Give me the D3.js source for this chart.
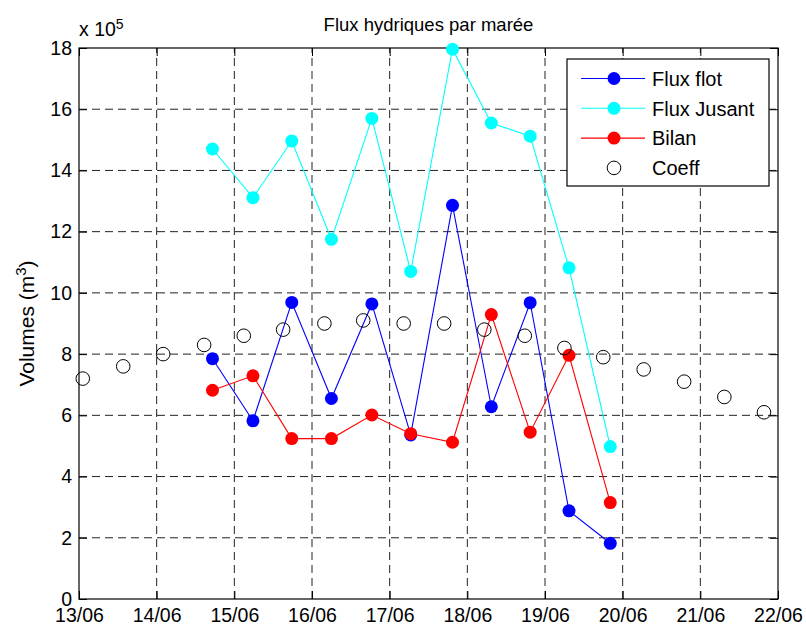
<!DOCTYPE html>
<html>
<head>
<meta charset="utf-8">
<script src="https://cdn.jsdelivr.net/npm/d3@7"></script>
<style>
  body { margin: 0; background: #fff; }
  text { font-family: Arial, "Liberation Sans", sans-serif; fill: #000; }
</style>
</head>
<body>
<svg id="chart" width="806" height="626"></svg>
<script>
// measurement times (one per tide) and volumes in units of 10^5 m3
var fluxTimes = ["14/06 17:15", "15/06 05:45", "15/06 17:45", "16/06 06:00", "16/06 18:30",
                 "17/06 06:30", "17/06 19:25", "18/06 07:25", "18/06 19:25", "19/06 07:25", "19/06 20:10"];
var fluxFlot   = [7.85, 5.82, 9.69, 6.55, 9.64, 5.36, 12.86, 6.28, 9.68, 2.88, 1.82];
var fluxJusant = [14.70, 13.11, 14.96, 11.75, 15.70, 10.70, 17.96, 15.55, 15.12, 10.82, 4.98];
var bilan      = [6.82, 7.29, 5.24, 5.24, 6.01, 5.40, 5.12, 9.29, 5.45, 7.96, 3.15];

// tide coefficients (divided by 10, same axis)
var coeffTimes = ["13/06 01:10", "13/06 13:40", "14/06 02:00", "14/06 14:40", "15/06 02:55", "15/06 15:05",
                  "16/06 03:50", "16/06 15:50", "17/06 04:20", "17/06 16:50", "18/06 05:15", "18/06 17:45",
                  "19/06 06:00", "19/06 18:00", "20/06 06:30", "20/06 19:00", "21/06 07:25", "21/06 19:40"];
var coeff = [7.2, 7.6, 8.0, 8.3, 8.6, 8.8, 9.0, 9.1, 9.0, 9.0, 8.8, 8.6, 8.2, 7.9, 7.5, 7.1, 6.6, 6.1];

// axis ticks
var dayTicks = ["13/06", "14/06", "15/06", "16/06", "17/06", "18/06", "19/06", "20/06", "21/06", "22/06"];
var volumeTicks = [0, 2, 4, 6, 8, 10, 12, 14, 16, 18];

var legendLabels = ["Flux flot", "Flux Jusant", "Bilan", "Coeff"];

// plot area (note: "top" is reserved by window, so prefix everything)
var plotLeft = 79, plotRight = 778, plotTop = 48, plotBottom = 599;
var tickLen = 8;

var parseTime = d3.timeParse("%d/%m %H:%M");
var parseDay = d3.timeParse("%d/%m");
var days = dayTicks.map(parseDay);

var x = d3.scaleTime().domain([days[0], days[days.length - 1]]).range([plotLeft, plotRight]);
var y = d3.scaleLinear().domain([0, 18]).range([plotBottom, plotTop]);

var svg = d3.select("#chart");

// dashed grid
var grid = svg.append("g").attr("class", "grid")
    .attr("stroke", "#222").attr("stroke-width", 1).attr("stroke-dasharray", "8,5");
grid.selectAll("line.v").data(days.slice(1, -1)).enter().append("line")
    .attr("class", "v")
    .attr("x1", function(d){ return x(d); }).attr("x2", function(d){ return x(d); })
    .attr("y1", plotBottom).attr("y2", plotTop);
grid.selectAll("line.h").data(volumeTicks.slice(1, -1)).enter().append("line")
    .attr("class", "h")
    .attr("x1", plotLeft).attr("x2", plotRight)
    .attr("y1", function(d){ return y(d); }).attr("y2", function(d){ return y(d); });

// axes with inward ticks on the four sides
var xAxis = d3.axisBottom(x).tickValues(days).tickFormat(d3.timeFormat("%d/%m"))
    .tickSizeInner(-tickLen).tickSizeOuter(0).tickPadding(9);
var yAxis = d3.axisLeft(y).tickValues(volumeTicks).tickFormat(d3.format("d"))
    .tickSizeInner(-tickLen).tickSizeOuter(0).tickPadding(7);

svg.append("g").attr("transform", "translate(0," + plotBottom + ")").call(xAxis)
    .call(function(g){ g.select(".domain").remove(); })
    .selectAll("text").style("font-size", "19.5px");
svg.append("g").attr("transform", "translate(" + plotLeft + ",0)").call(yAxis)
    .call(function(g){ g.select(".domain").remove(); })
    .selectAll("text").style("font-size", "19.5px");
svg.append("g").attr("transform", "translate(0," + plotTop + ")")
    .call(d3.axisTop(x).tickValues(days).tickFormat("").tickSizeInner(-tickLen).tickSizeOuter(0))
    .call(function(g){ g.select(".domain").remove(); });
svg.append("g").attr("transform", "translate(" + plotRight + ",0)")
    .call(d3.axisRight(y).tickValues(volumeTicks).tickFormat("").tickSizeInner(-tickLen).tickSizeOuter(0))
    .call(function(g){ g.select(".domain").remove(); });
svg.selectAll(".tick line").attr("stroke", "#000");

// axes box
svg.append("rect")
    .attr("x", plotLeft).attr("y", plotTop)
    .attr("width", plotRight - plotLeft).attr("height", plotBottom - plotTop)
    .attr("fill", "none").attr("stroke", "#000").attr("stroke-width", 1.2);

// series
var fluxDates = fluxTimes.map(parseTime);
var series = [
  {values: fluxFlot,   color: "#0000ff"},
  {values: fluxJusant, color: "#00ffff"},
  {values: bilan,      color: "#ff0000"}
];
var line = d3.line()
    .x(function(d){ return x(d[0]); })
    .y(function(d){ return y(d[1]); });

series.forEach(function(s){
  var pts = d3.zip(fluxDates, s.values);
  svg.append("path").datum(pts)
      .attr("d", line).attr("fill", "none")
      .attr("stroke", s.color).attr("stroke-width", 1.1);
  svg.append("g").selectAll("circle").data(pts).enter().append("circle")
      .attr("cx", function(d){ return x(d[0]); })
      .attr("cy", function(d){ return y(d[1]); })
      .attr("r", 6.5).attr("fill", s.color);
});

// tide coefficients as open circles
var coeffPts = d3.zip(coeffTimes.map(parseTime), coeff);
svg.append("g").selectAll("circle").data(coeffPts).enter().append("circle")
    .attr("cx", function(d){ return x(d[0]); })
    .attr("cy", function(d){ return y(d[1]); })
    .attr("r", 6.8).attr("fill", "none").attr("stroke", "#000").attr("stroke-width", 1);

// title, exponent, y label
svg.append("text").attr("x", (plotLeft + plotRight) / 2).attr("y", 31)
    .attr("text-anchor", "middle").style("font-size", "18.5px")
    .text("Flux hydriques par marée");

var expo = svg.append("text").attr("x", plotLeft).attr("y", 36).style("font-size", "19.5px");
expo.append("tspan").text("x 10");
expo.append("tspan").attr("dy", -7).style("font-size", "14px").text("5");

var ylab = svg.append("text")
    .attr("transform", "translate(34," + ((plotTop + plotBottom) / 2) + ") rotate(-90)")
    .attr("text-anchor", "middle").style("font-size", "21px");
ylab.append("tspan").text("Volumes (m");
ylab.append("tspan").attr("dy", -8).style("font-size", "15px").text("3");
ylab.append("tspan").attr("dy", 8).text(")");

// legend
var legend = svg.append("g").attr("class", "legend");
legend.append("rect")
    .attr("x", 567).attr("y", 59).attr("width", 202).attr("height", 127)
    .attr("fill", "#fff").attr("stroke", "#000").attr("stroke-width", 1.2);
var legendColors = ["#0000ff", "#00ffff", "#ff0000", null];
legendLabels.forEach(function(label, i){
  var ly = 78.5 + i * 29.8;
  var c = legendColors[i];
  if (c) {
    legend.append("line").attr("x1", 581).attr("x2", 645).attr("y1", ly).attr("y2", ly)
        .attr("stroke", c).attr("stroke-width", 1.1);
    legend.append("circle").attr("cx", 614).attr("cy", ly).attr("r", 6.5).attr("fill", c);
  } else {
    legend.append("circle").attr("cx", 614).attr("cy", ly).attr("r", 6.8)
        .attr("fill", "none").attr("stroke", "#000");
  }
  legend.append("text").attr("x", 652).attr("y", ly).attr("dy", "0.36em")
      .style("font-size", "20px").text(label);
});
</script>
</body>
</html>
